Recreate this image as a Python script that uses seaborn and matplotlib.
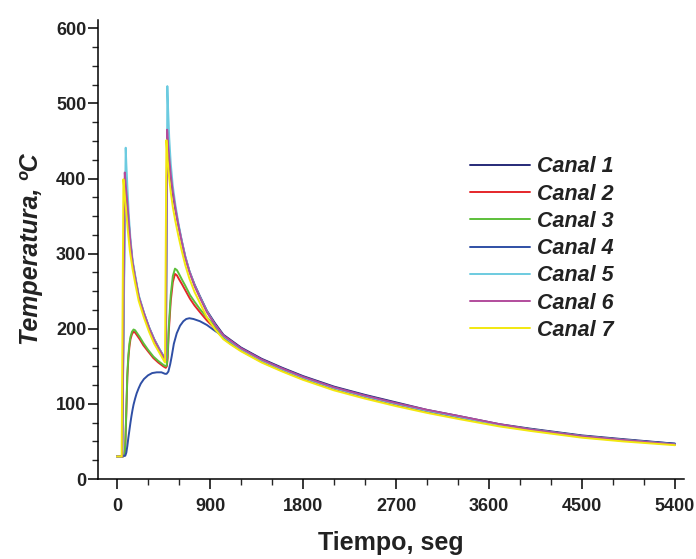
import matplotlib
matplotlib.use("Agg")
import matplotlib.pyplot as plt
from matplotlib.ticker import MultipleLocator
import pandas as pd
import seaborn as sns

# Temperature records (time in s, temperature in ºC) for each thermocouple channel.
# Early part of each record, up to about 950 s
canal1_t = [0, 50, 78, 85, 100, 115, 130, 150, 175, 210, 260, 310, 360, 410, 465, 472, 485, 495, 505, 520, 540, 565, 595, 626, 660, 700, 750, 800, 870, 950]
canal1_T = [30, 30, 402, 386, 365, 338, 314, 289, 269, 243, 221, 202, 186, 173, 160, 159, 455, 438, 422, 402, 380, 359, 337, 317, 296, 277, 259, 244, 224, 207]

canal2_t = [0, 60, 72, 80, 90, 100, 110, 120, 130, 145, 160, 175, 195, 220, 255, 300, 352, 400, 448, 472, 482, 490, 500, 520, 540, 561, 580, 600, 630, 658, 706, 750, 803, 870, 950]
canal2_T = [30, 30, 32, 44, 88, 136, 161, 176, 186, 193, 196, 195, 191, 186, 178, 170, 161, 155, 150, 148, 150, 161, 194, 237, 262, 273, 271, 266, 259, 252, 240, 231, 222, 211, 200]

canal3_t = [0, 60, 72, 80, 90, 100, 110, 120, 130, 145, 160, 175, 195, 220, 255, 300, 352, 400, 448, 472, 482, 490, 500, 520, 540, 561, 580, 600, 630, 658, 706, 750, 803, 870, 950]
canal3_T = [30, 30, 32, 45, 92, 140, 165, 180, 189, 196, 199, 198, 194, 189, 181, 172, 163, 157, 152, 150, 152, 165, 200, 245, 270, 280, 278, 273, 265, 258, 245, 236, 226, 215, 203]

canal4_t = [0, 80, 90, 100, 110, 120, 130, 140, 150, 160, 175, 190, 210, 230, 260, 300, 340, 384, 430, 465, 480, 497, 515, 529, 550, 578, 610, 642, 670, 700, 740, 803, 870, 950]
canal4_T = [30, 31, 35, 44, 55, 65, 75, 84, 92, 99, 107, 114, 121, 127, 133, 138, 141, 142, 142, 140, 140, 143, 153, 163, 180, 194, 204, 210, 213, 214, 213, 210, 205, 197]

canal5_t = [0, 50, 84, 90, 100, 115, 130, 150, 175, 210, 260, 310, 360, 410, 465, 475, 487, 495, 505, 520, 540, 565, 595, 626, 660, 700, 750, 800, 870, 950]
canal5_T = [30, 30, 441, 420, 390, 350, 320, 292, 272, 245, 222, 202, 186, 173, 160, 159, 523, 490, 455, 420, 390, 365, 340, 318, 297, 277, 258, 243, 223, 205]

canal6_t = [0, 50, 75, 85, 100, 115, 130, 150, 175, 210, 260, 310, 360, 410, 465, 472, 485, 495, 505, 520, 540, 565, 595, 626, 660, 700, 750, 800, 870, 950]
canal6_T = [30, 30, 408, 390, 368, 340, 315, 289, 269, 243, 221, 201, 185, 172, 159, 158, 465, 445, 428, 405, 382, 360, 337, 316, 295, 276, 257, 242, 222, 205]

canal7_t = [0, 45, 62, 75, 90, 105, 125, 150, 175, 210, 260, 310, 360, 410, 460, 465, 478, 490, 505, 520, 540, 565, 595, 626, 660, 700, 750, 800, 870, 950]
canal7_T = [30, 30, 399, 378, 355, 330, 303, 280, 261, 237, 215, 196, 180, 168, 156, 155, 451, 425, 400, 382, 362, 343, 323, 304, 285, 267, 249, 235, 215, 199]

# Cooling tail, shared time stamps from 1030 s to the end of the test
cola_t = [1030, 1100, 1200, 1400, 1600, 1800, 2100, 2400, 2700, 3000, 3300, 3700, 4000, 4500, 4900, 5400]
cola1_T = [192, 185, 175, 160, 148, 137, 123, 112, 102, 92, 84, 73, 67, 58, 53, 47]
cola2_T = [187, 180, 171, 156, 144, 133, 120, 109, 99, 90, 82, 71, 65, 56, 51, 46]
cola3_T = [189, 182, 173, 158, 146, 135, 121, 110, 100, 91, 83, 72, 66, 57, 52, 46]
cola4_T = [190, 183, 174, 159, 147, 136, 122, 111, 101, 91, 83, 72, 66, 57, 52, 47]
cola5_T = [190, 183, 173, 158, 146, 135, 121, 110, 100, 91, 83, 72, 66, 57, 52, 46]
cola6_T = [191, 184, 174, 159, 147, 136, 122, 111, 101, 92, 84, 73, 66, 57, 52, 46]
cola7_T = [186, 179, 170, 155, 143, 132, 118, 107, 97, 88, 80, 70, 64, 55, 50, 45]

canal_names = ["Canal 1", "Canal 2", "Canal 3", "Canal 4", "Canal 5", "Canal 6", "Canal 7"]
canal_colors = ["#262a78", "#e5262a", "#5cbf3a", "#2f4fa5", "#6ccbe0", "#b24c9c", "#f2e80f"]

x_ticks = [0, 900, 1800, 2700, 3600, 4500, 5400]
y_ticks = [0, 100, 200, 300, 400, 500, 600]

series = [
    (canal1_t, canal1_T, cola1_T), (canal2_t, canal2_T, cola2_T),
    (canal3_t, canal3_T, cola3_T), (canal4_t, canal4_T, cola4_T),
    (canal5_t, canal5_T, cola5_T), (canal6_t, canal6_T, cola6_T),
    (canal7_t, canal7_T, cola7_T),
]
frames = []
for name, (tt, TT, tail) in zip(canal_names, series):
    frames.append(pd.DataFrame({"Tiempo": tt + cola_t,
                                "Temperatura": TT + tail,
                                "Canal": name}))
df = pd.concat(frames, ignore_index=True)

sns.set_style("ticks")
plt.rcParams["font.family"] = ["Liberation Sans", "DejaVu Sans"]

fig = plt.figure(figsize=(6.96, 5.59), dpi=100)
ax = fig.add_axes([98 / 696, 1 - 479 / 559, (684 - 98) / 696, (479 - 20) / 559])

sns.lineplot(data=df, x="Tiempo", y="Temperatura", hue="Canal",
             palette=dict(zip(canal_names, canal_colors)), hue_order=canal_names,
             estimator=None, sort=False, linewidth=1.4, ax=ax)

ax.set_xlim(-184, 5487)
ax.set_ylim(0, 611)
ax.set_xticks(x_ticks)
ax.set_yticks(y_ticks)
ax.xaxis.set_minor_locator(MultipleLocator(300))
ax.yaxis.set_minor_locator(MultipleLocator(25))
ax.tick_params(axis="both", which="major", direction="out", length=7, width=1.1,
               labelsize=13, colors="black")
ax.tick_params(axis="x", which="major", pad=7)
ax.tick_params(axis="y", which="major", pad=1.5)
ax.tick_params(axis="both", which="minor", direction="out", length=4, width=1.0)
for lab in ax.get_xticklabels() + ax.get_yticklabels():
    lab.set_fontweight("bold")
    lab.set_color("#222222")

for side in ("top", "right"):
    ax.spines[side].set_visible(False)
for side in ("left", "bottom"):
    ax.spines[side].set_color("black")
    ax.spines[side].set_linewidth(1.1)

ax.set_xlabel("Tiempo, seg", fontsize=18, fontweight="bold", color="#222222", labelpad=11)
ax.set_ylabel("Temperatura, ºC", fontsize=18, fontweight="bold", fontstyle="italic",
              color="#222222", labelpad=9)

handles, labels = ax.get_legend_handles_labels()
ax.legend(handles, labels, loc="upper left", frameon=False,
          bbox_to_anchor=(470 / 696, 1 - 156.5 / 559), bbox_transform=fig.transFigure,
          prop={"size": 15.5, "weight": "bold", "style": "italic"},
          handlelength=2.8, handletextpad=0.3, labelspacing=0.29, borderpad=0,
          borderaxespad=0)
for txt in ax.get_legend().get_texts():
    txt.set_color("#222222")

fig.savefig("out.png", dpi=100)
